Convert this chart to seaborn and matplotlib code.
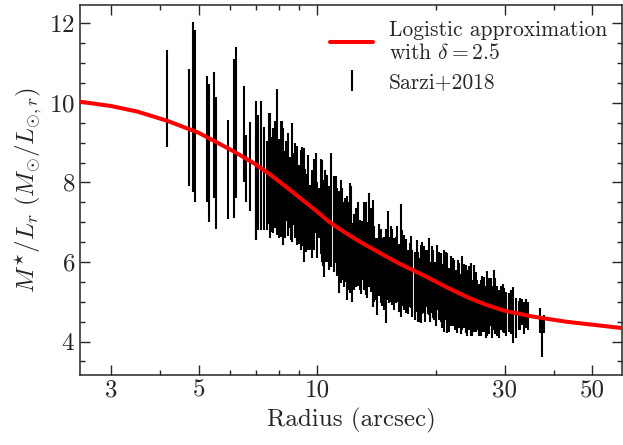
#Mass-to-light ratio profile with logistic approximation

# Load Packages=====================================================================================
import numpy as np
import pandas as pd
import seaborn as sns
import matplotlib
matplotlib.use('Agg')
import matplotlib.pyplot as plt
from matplotlib.ticker import FixedLocator, NullFormatter, MultipleLocator


# Data==============================================================================================
## Sarzi+2018 measurements (radius in arcsec, M*/L_r and its error)
radius = [4.16, 4.73, 4.83, 4.89, 5.25, 5.32, 5.46, 5.53, 5.95, 6.16, 6.24, 6.53, 6.59, 6.76,
          6.99, 7.01, 7.20, 7.48, 7.60, 7.75, 7.90, 8.09, 8.21, 8.36, 8.54, 8.65, 8.71, 8.91,
          9.09, 9.27, 9.39, 9.60, 9.92, 10.12, 10.31, 10.42, 10.58,
          10.87, 11.16, 11.37, 11.49, 11.71, 11.90, 12.13, 12.29, 12.54, 12.86, 13.03, 13.29,
          13.55, 13.87, 14.09, 14.22, 14.51, 14.79, 14.94, 15.10, 15.23, 15.53, 15.84,
          16.31, 16.63, 16.85, 17.19, 17.45, 18.08, 18.33, 18.69, 18.94, 19.24, 19.55, 19.81,
          20.20, 20.61, 21.01, 21.42, 21.92, 22.27, 22.62, 22.93, 23.38, 23.85, 24.17, 24.55,
          25.03, 25.52, 26.03, 26.54, 27.05, 27.60, 28.13, 28.58, 29.36, 29.83, 30.71, 31.44,
          32.56, 33.08, 33.86, 36.81, 37.31, 37.68,
          #denser bins in between
          7.10, 7.34, 7.54, 7.68, 7.83, 8.00, 8.15, 8.29, 8.45, 8.60, 8.80, 9.00, 9.18, 9.33,
          9.50, 9.70, 9.80, 10.02, 10.21, 10.36, 10.50, 10.72, 11.02, 11.26, 11.60, 11.80,
          12.02, 12.21, 12.42, 12.70, 12.95, 13.16, 13.42, 13.71, 13.98, 14.36, 14.65, 15.38,
          15.68, 16.00, 16.16, 16.47, 17.02, 17.32, 17.75, 17.92, 18.20, 18.50, 18.82, 19.09,
          19.40, 19.68, 20.00, 20.40, 20.80, 21.22, 21.66, 22.10, 22.45, 22.78, 23.15, 23.60,
          24.00, 24.36, 24.80, 25.28, 25.77, 26.28, 26.80, 27.32, 27.86, 28.35, 28.97, 29.60,
          30.25, 31.05, 32.00, 32.80, 33.45, 34.40]
ml_ratio = [10.12, 9.38, 9.90, 9.67, 9.10, 8.74, 9.19, 8.48, 8.33, 9.10, 9.50, 9.22, 8.36, 8.40,
            7.86, 8.30, 8.42, 7.92, 8.17, 8.04, 8.51, 8.09, 7.90, 8.03, 7.75, 8.00, 7.83, 7.67,
            7.56, 7.44, 7.23, 7.12, 7.73, 7.23, 7.29, 6.85, 7.10,
            7.30, 7.06, 6.50, 6.77, 6.45, 6.35, 6.60, 5.99, 6.37, 6.18, 6.29, 6.35,
            6.56, 6.22, 5.83, 5.64, 5.89, 5.72, 5.64, 6.16, 5.80, 5.87, 5.80,
            6.04, 5.74, 5.64, 5.68, 5.47, 5.38, 5.45, 5.55, 5.59, 5.64, 5.55, 5.28,
            5.62, 5.36, 5.28, 5.22, 5.26, 5.30, 5.01, 5.16, 5.22, 5.07, 5.07, 5.05,
            5.09, 4.92, 4.84, 4.94, 4.95, 4.99, 5.05, 4.76, 4.84, 4.78, 4.74, 4.67,
            4.65, 4.74, 4.70, 4.53, 4.09, 4.44,
            8.25, 8.10, 8.35, 7.95, 8.20, 7.85, 8.15, 7.70, 7.95, 7.60, 7.80, 7.45, 7.65, 7.30,
            7.50, 7.20, 7.45, 7.05, 7.40, 6.90, 7.15, 6.85, 6.95, 6.75, 6.70, 6.55,
            6.40, 6.70, 6.25, 6.45, 6.10, 6.40, 6.05, 6.30, 5.95, 6.05, 5.75, 5.95,
            5.70, 5.95, 5.60, 5.85, 5.50, 5.75, 5.40, 5.65, 5.30, 5.60, 5.35, 5.50,
            5.25, 5.45, 5.20, 5.40, 5.15, 5.40, 5.05, 5.25, 5.05, 5.25, 4.95, 5.15,
            4.90, 5.10, 4.85, 5.00, 4.80, 4.95, 4.75, 4.90, 4.75, 4.90, 4.70, 4.85,
            4.70, 4.75, 4.60, 4.70, 4.60, 4.65]
ml_err = [1.22, 1.48, 2.13, 2.15, 1.58, 1.74, 1.59, 1.66, 1.25, 2.00, 1.90, 1.20, 0.84, 1.13,
          1.30, 1.74, 1.62, 1.11, 1.57, 1.32, 1.83, 1.45, 1.47, 1.01, 0.90, 1.50, 0.90, 1.24,
          1.26, 1.43, 0.97, 0.82, 1.01, 0.63, 1.28, 1.22, 1.09,
          1.43, 1.09, 1.28, 1.30, 1.07, 1.30, 1.38, 0.99, 0.99, 0.88, 0.74, 1.17,
          1.18, 1.34, 0.78, 0.97, 0.93, 0.92, 1.18, 1.11, 0.84, 0.95, 0.84,
          1.41, 0.94, 0.93, 0.80, 0.84, 0.88, 0.99, 0.84, 0.71, 0.97, 0.84, 0.73,
          0.82, 0.86, 1.03, 1.01, 0.88, 0.75, 0.80, 0.82, 0.93, 0.86, 0.73, 0.92,
          0.84, 0.63, 0.71, 0.69, 0.82, 0.61, 0.76, 0.63, 0.55, 0.57, 0.49, 0.71,
          0.36, 0.32, 0.36, 0.32, 0.47, 0.23,
          1.45, 1.30, 1.40, 1.20, 1.35, 1.25, 1.40, 1.10, 1.30, 1.05, 1.20, 1.00, 1.25, 1.05,
          1.20, 1.10, 1.15, 0.95, 1.20, 1.00, 1.15, 1.05, 1.20, 1.10, 1.15, 1.05,
          1.10, 1.20, 0.95, 1.05, 0.90, 1.10, 0.95, 1.05, 0.95, 0.90, 0.85, 0.95,
          0.90, 0.95, 0.85, 0.95, 0.80, 0.90, 0.85, 0.90, 0.80, 0.90, 0.85, 0.80,
          0.75, 0.85, 0.80, 0.85, 0.80, 0.85, 0.80, 0.85, 0.75, 0.80, 0.75, 0.80,
          0.75, 0.80, 0.70, 0.75, 0.65, 0.70, 0.65, 0.70, 0.65, 0.70, 0.60, 0.60,
          0.55, 0.55, 0.50, 0.40, 0.40, 0.35]

## Logistic approximation
fit_radius = [2.5, 3.0, 3.5, 4.16, 5.0, 6.09, 6.92, 7.55, 8.25, 9.0, 10.0, 10.7, 11.37, 12.06,
              12.6, 14.37, 16.1, 18.7, 21.6, 24.31, 26.8, 29.8, 35.2, 42.9, 59.5]
fit_ml = [10.03, 9.92, 9.78, 9.55, 9.25, 8.80, 8.48, 8.22, 7.93, 7.63, 7.27, 7.02, 6.84, 6.68,
          6.56, 6.24, 5.97, 5.66, 5.34, 5.10, 4.93, 4.78, 4.63, 4.50, 4.34]

x_ticks = [3, 5, 10, 30, 50]
x_minor = [4, 6, 7, 8, 9, 20, 40]


# Style=============================================================================================
sns.set_style('ticks')
plt.rcParams['font.family'] = 'serif'
plt.rcParams['font.serif'] = ['cmr10', 'DejaVu Serif']
plt.rcParams['mathtext.fontset'] = 'cm'
plt.rcParams['axes.unicode_minus'] = False
plt.rcParams['axes.formatter.use_mathtext'] = True


# Plot==============================================================================================
fig = plt.figure(figsize=(6.23, 4.45), dpi=100)
ax = fig.add_axes([0.1284, 0.1573, 0.8700, 0.8315])

df_fit = pd.DataFrame({'radius': fit_radius, 'ml': fit_ml})
sns.lineplot(x='radius', y='ml', data=df_fit, color='red', lw=2.9, ax=ax, zorder=3,
             label='Logistic approximation\nwith $\\delta = 2.5$')

ax.errorbar(radius, ml_ratio, yerr=ml_err, fmt='none', ecolor='black', elinewidth=1.5,
            capsize=0, zorder=2, label='Sarzi+2018')

#axes scales and limits
ax.set_xscale('log')
ax.set_xlim(2.5, 59.5)
ax.set_ylim(3.16, 12.46)

#ticks
ax.xaxis.set_major_locator(FixedLocator(x_ticks))
ax.set_xticklabels([str(t) for t in x_ticks])
ax.xaxis.set_minor_locator(FixedLocator(x_minor))
ax.xaxis.set_minor_formatter(NullFormatter())
ax.yaxis.set_major_locator(FixedLocator([4, 6, 8, 10, 12]))
ax.yaxis.set_minor_locator(MultipleLocator(0.5))
ax.tick_params(which='both', direction='in', top=True, right=True, labelsize=18, width=1)
ax.tick_params(which='major', length=7)
ax.tick_params(which='minor', length=3.5)
for sp in ax.spines.values():
  sp.set_linewidth(1.1)

#labels
ax.set_xlabel('Radius (arcsec)', fontsize=18)
ax.set_ylabel(r'$M^{\star}/L_r\ (M_{\odot}/L_{\odot,r})$', fontsize=18)

#legend
handles, labels = ax.get_legend_handles_labels()
ax.legend(handles, labels, loc='upper right', frameon=False, fontsize=15.5,
          handlelength=2.0, handletextpad=0.7, borderaxespad=0.3, labelspacing=0.45)

fig.savefig('out.png', dpi=100)
plt.close()
